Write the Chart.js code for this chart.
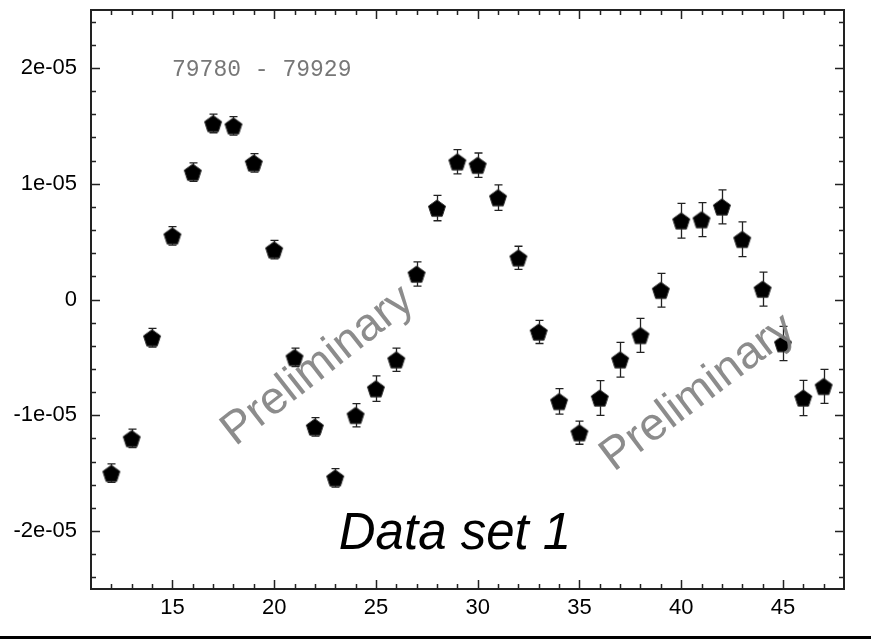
<!DOCTYPE html>
<html>
<head>
<meta charset="utf-8">
<script src="https://cdn.jsdelivr.net/npm/chart.js@4/dist/chart.umd.min.js"></script>
<style>
  html, body { margin: 0; padding: 0; background: #fff; }
  #c { display: block; }
</style>
</head>
<body>
<canvas id="c" width="871" height="639"></canvas>
<script>
// Valeurs (unités réelles)
const xValues = [12, 13, 14, 15, 16, 17, 18, 19, 20, 21, 22, 23,
                 24, 25, 26, 27, 28, 29, 30, 31, 32, 33, 34, 35,
                 36, 37, 38, 39, 40, 41, 42, 43, 44, 45, 46, 47];
const yValues = [-1.50e-5, -1.20e-5, -0.33e-5, 0.55e-5, 1.10e-5, 1.52e-5, 1.50e-5, 1.18e-5, 0.43e-5, -0.50e-5, -1.10e-5, -1.54e-5,
                 -1.00e-5, -0.77e-5, -0.52e-5, 0.22e-5, 0.79e-5, 1.19e-5, 1.16e-5, 0.88e-5, 0.36e-5, -0.28e-5, -0.88e-5, -1.15e-5,
                 -0.85e-5, -0.52e-5, -0.31e-5, 0.08e-5, 0.68e-5, 0.69e-5, 0.80e-5, 0.52e-5, 0.09e-5, -0.38e-5, -0.85e-5, -0.75e-5];
const yErrors = [0.08e-5, 0.08e-5, 0.08e-5, 0.08e-5, 0.08e-5, 0.08e-5, 0.08e-5, 0.08e-5, 0.08e-5, 0.08e-5, 0.08e-5, 0.08e-5,
                 0.10e-5, 0.11e-5, 0.10e-5, 0.105e-5, 0.11e-5, 0.105e-5, 0.105e-5, 0.11e-5, 0.10e-5, 0.10e-5, 0.11e-5, 0.10e-5,
                 0.15e-5, 0.15e-5, 0.147e-5, 0.146e-5, 0.15e-5, 0.147e-5, 0.147e-5, 0.15e-5, 0.147e-5, 0.148e-5, 0.152e-5, 0.147e-5];
const xTickValues = [15, 20, 25, 30, 35, 40, 45];
const yTickValues = [-2e-5, -1e-5, 0, 1e-5, 2e-5];
const yTickLabels = ['-2e-05', '-1e-05', '0', '1e-05', '2e-05'];
const rangeLabel = '79780 - 79929';
const titleLabel = 'Data set 1';
const watermark = 'Preliminary';

const SANS = '"Liberation Sans", Arial, Helvetica, sans-serif';

// Pentagone plein (pointe en haut)
function pentagon(r) {
  const c = document.createElement('canvas');
  const s = Math.ceil(r * 2 + 2);
  c.width = s; c.height = s;
  const g = c.getContext('2d');
  g.beginPath();
  for (let i = 0; i < 5; i++) {
    const a = -Math.PI / 2 + i * 2 * Math.PI / 5;
    const px = s / 2 + r * Math.cos(a), py = s / 2 + r * Math.sin(a) + r * 0.1;
    i ? g.lineTo(px, py) : g.moveTo(px, py);
  }
  g.closePath();
  g.fillStyle = '#000'; g.fill();
  g.strokeStyle = '#333'; g.lineWidth = 1; g.stroke();
  return c;
}

// Barres d'erreur, cadre, graduations internes et textes
const decor = {
  id: 'decor',
  beforeDatasetsDraw(chart) {
    const { ctx, scales: { x, y } } = chart;
    ctx.save();
    ctx.strokeStyle = '#222'; ctx.lineWidth = 1.3;
    xValues.forEach((xv, i) => {
      const px = Math.round(x.getPixelForValue(xv)) + 0.5;
      const t = y.getPixelForValue(yValues[i] + yErrors[i]);
      const b = y.getPixelForValue(yValues[i] - yErrors[i]);
      ctx.beginPath();
      ctx.moveTo(px, t); ctx.lineTo(px, b);
      ctx.moveTo(px - 4, t); ctx.lineTo(px + 4, t);
      ctx.moveTo(px - 4, b); ctx.lineTo(px + 4, b);
      ctx.stroke();
    });
    ctx.restore();
  },
  afterDatasetsDraw(chart) {
    const { ctx, chartArea: a, scales: { x, y } } = chart;
    ctx.save();
    // filigranes
    ctx.fillStyle = 'rgba(128,128,128,0.9)';
    ctx.font = '46px ' + SANS;
    ctx.textAlign = 'center'; ctx.textBaseline = 'middle';
    [[318, 366, -38], [698, 393, -37]].forEach(([cx, cy, deg]) => {
      ctx.save(); ctx.translate(cx, cy); ctx.rotate(deg * Math.PI / 180);
      ctx.fillText(watermark, 0, 0); ctx.restore();
    });
    // textes
    ctx.fillStyle = '#777';
    ctx.font = '23px "Liberation Mono", "Courier New", monospace';
    ctx.textAlign = 'left';
    ctx.fillText(rangeLabel, 172, 70);
    ctx.fillStyle = '#000';
    ctx.font = 'italic 51px ' + SANS;
    ctx.textAlign = 'center';
    ctx.fillText(titleLabel, 455, 535);

    // cadre
    ctx.strokeStyle = '#222'; ctx.lineWidth = 2;
    ctx.strokeRect(a.left, a.top, a.right - a.left, a.bottom - a.top);
    ctx.lineWidth = 1.5;
    ctx.beginPath();
    for (let v = Math.ceil(x.min); v <= x.max; v++) {
      if (v === x.min || v === x.max) continue;
      const px = Math.round(x.getPixelForValue(v)) + 0.5;
      const len = v % 5 === 0 ? 9 : 5;
      ctx.moveTo(px, a.bottom); ctx.lineTo(px, a.bottom - len);
      ctx.moveTo(px, a.top); ctx.lineTo(px, a.top + len);
    }
    for (let k = -12; k <= 12; k++) {
      const py = Math.round(y.getPixelForValue(k * 2e-6)) + 0.5;
      const len = k % 5 === 0 ? 9 : 5;
      ctx.moveTo(a.left, py); ctx.lineTo(a.left + len, py);
      ctx.moveTo(a.right, py); ctx.lineTo(a.right - len, py);
    }
    ctx.stroke();
    // trait noir en bas de l'image
    ctx.fillStyle = '#000';
    ctx.fillRect(0, chart.height - 3, chart.width, 3);
    ctx.restore();
  }
};

new Chart(document.getElementById('c'), {
  type: 'scatter',
  data: {
    datasets: [{
      data: xValues.map((xv, i) => ({ x: xv, y: yValues[i] })),
      pointStyle: pentagon(9),
      pointRadius: 9,
      showLine: false,
    }],
  },
  options: {
    responsive: false,
    animation: false,
    events: [],
    layout: { padding: { top: 9, right: 27, left: 0, bottom: 0 } },
    plugins: { legend: { display: false }, tooltip: { enabled: false } },
    scales: {
      x: {
        type: 'linear', min: 11, max: 48,
        grid: { display: false, drawTicks: false }, border: { display: false },
        afterBuildTicks: (s) => { s.ticks = xTickValues.map((v) => ({ value: v })); },
        afterFit: (s) => { s.height = 50; s.paddingLeft = 0; s.paddingRight = 0; },
        ticks: {
          color: '#000', padding: 6, maxRotation: 0, autoSkip: false,
          font: { family: SANS, size: 22 },
          callback: (v) => String(v),
        },
      },
      y: {
        type: 'linear', min: -2.5e-5, max: 2.5e-5,
        grid: { display: false, drawTicks: false }, border: { display: false },
        afterBuildTicks: (s) => { s.ticks = yTickValues.map((v) => ({ value: v })); },
        afterFit: (s) => { s.width = 91; s.paddingTop = 0; s.paddingBottom = 0; },
        ticks: {
          color: '#000', padding: 14, autoSkip: false,
          font: { family: SANS, size: 22 },
          callback: (v) => { const i = yTickValues.indexOf(v); return i >= 0 ? yTickLabels[i] : ''; },
        },
      },
    },
  },
  plugins: [decor],
});
</script>
</body>
</html>
